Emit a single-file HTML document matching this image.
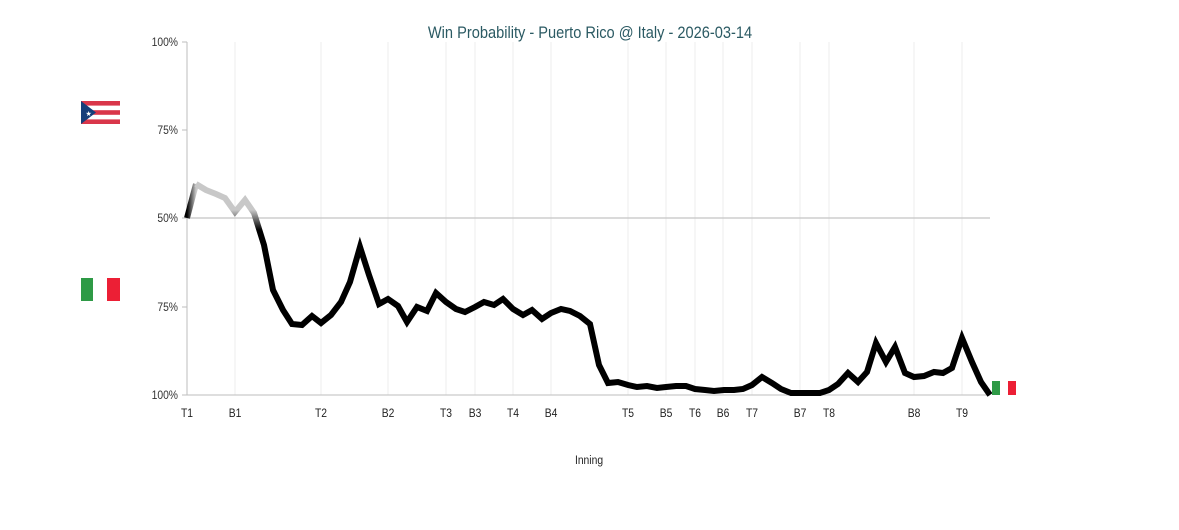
<!DOCTYPE html>
<html><head><meta charset="utf-8"><style>
html,body{margin:0;padding:0;background:#fff;width:1179px;height:530px;overflow:hidden}
text{font-family:"Liberation Sans",sans-serif}
</style></head><body>
<svg width="1179" height="530" xmlns="http://www.w3.org/2000/svg">
<defs>
<linearGradient id="g" gradientUnits="userSpaceOnUse" x1="0" y1="200" x2="0" y2="250">
<stop offset="0" stop-color="#c8c8c8"/><stop offset="0.2" stop-color="#c8c8c8"/><stop offset="0.6" stop-color="#000"/><stop offset="1" stop-color="#000"/>
</linearGradient>
<linearGradient id="g2" gradientUnits="userSpaceOnUse" x1="187" y1="0" x2="196" y2="0"><stop offset="0" stop-color="#000"/><stop offset="1" stop-color="#c8c8c8"/></linearGradient>
</defs>
<text x="590" y="38" text-anchor="middle" font-size="17" fill="#2b5a63" transform="translate(590 0) scale(0.86 1) translate(-590 0)">Win Probability - Puerto Rico @ Italy - 2026-03-14</text>
<g stroke="#eeeeee" stroke-width="1">
<line x1="235" y1="42" x2="235" y2="395"/><line x1="321" y1="42" x2="321" y2="395"/><line x1="388" y1="42" x2="388" y2="395"/><line x1="446" y1="42" x2="446" y2="395"/><line x1="475" y1="42" x2="475" y2="395"/><line x1="513" y1="42" x2="513" y2="395"/><line x1="551" y1="42" x2="551" y2="395"/><line x1="628" y1="42" x2="628" y2="395"/><line x1="666" y1="42" x2="666" y2="395"/><line x1="695" y1="42" x2="695" y2="395"/><line x1="723" y1="42" x2="723" y2="395"/><line x1="752" y1="42" x2="752" y2="395"/><line x1="800" y1="42" x2="800" y2="395"/><line x1="829" y1="42" x2="829" y2="395"/><line x1="914" y1="42" x2="914" y2="395"/><line x1="962" y1="42" x2="962" y2="395"/>
</g>
<line x1="187" y1="218" x2="990" y2="218" stroke="#c4c4c4" stroke-width="1.2"/>
<g stroke="#bdbdbd" stroke-width="1">
<line x1="187" y1="42" x2="187" y2="395"/><line x1="187" y1="395" x2="990" y2="395"/>
<line x1="182" y1="42" x2="187" y2="42"/><line x1="182" y1="130" x2="187" y2="130"/><line x1="182" y1="218" x2="187" y2="218"/><line x1="182" y1="307" x2="187" y2="307"/><line x1="182" y1="395" x2="187" y2="395"/>
</g>
<g font-size="12" fill="#333" text-anchor="end" transform="translate(178 0) scale(0.86 1) translate(-178 0)">
<text x="178" y="46">100%</text><text x="178" y="134">75%</text><text x="178" y="222">50%</text><text x="178" y="311">75%</text><text x="178" y="399">100%</text>
</g>
<g font-size="12" fill="#222" text-anchor="middle">
<text transform="translate(187 417) scale(0.86 1)">T1</text><text transform="translate(235 417) scale(0.86 1)">B1</text><text transform="translate(321 417) scale(0.86 1)">T2</text><text transform="translate(388 417) scale(0.86 1)">B2</text><text transform="translate(446 417) scale(0.86 1)">T3</text><text transform="translate(475 417) scale(0.86 1)">B3</text><text transform="translate(513 417) scale(0.86 1)">T4</text><text transform="translate(551 417) scale(0.86 1)">B4</text><text transform="translate(628 417) scale(0.86 1)">T5</text><text transform="translate(666 417) scale(0.86 1)">B5</text><text transform="translate(695 417) scale(0.86 1)">T6</text><text transform="translate(723 417) scale(0.86 1)">B6</text><text transform="translate(752 417) scale(0.86 1)">T7</text><text transform="translate(800 417) scale(0.86 1)">B7</text><text transform="translate(829 417) scale(0.86 1)">T8</text><text transform="translate(914 417) scale(0.86 1)">B8</text><text transform="translate(962 417) scale(0.86 1)">T9</text>
<text transform="translate(589 464) scale(0.86 1)">Inning</text>
</g>
<line x1="187" y1="218" x2="196" y2="184" stroke="url(#g2)" stroke-width="6"/>
<polyline fill="none" stroke="url(#g)" stroke-width="6" stroke-linejoin="miter" points="196,184 206,190 216,194 225,198 235,212 245,200 254,213 264,245 273,290 283,310 292,324 302,325 312,316 321,323 331,315 341,302 350,282 360,247 369,275 379,304 388,299 398,306 407,322 417,307 427,311 436,293 446,302 456,309 465,312 475,307 484,302 494,305 503,299 513,309 523,315 532,310 542,319 551,313 561,309 570,311 580,316 590,324 599,365 608,383 618,382 628,385 637,387 647,386 657,388 666,387 676,386 686,386 695,389 705,390 714,391 724,390 734,390 743,389 752,385 762,377 772,383 781,389 791,393 800,393 810,393 820,393 829,390 838,384 848,373 858,382 867,372 876,343 886,362 895,347 905,373 914,377 924,376 934,372 943,373 952,368 962,338 972,362 981,382 990,395"/>
<g>
<rect x="81" y="101" width="39" height="23" fill="#fff"/>
<rect x="81" y="101" width="39" height="4.6" fill="#d9364a"/>
<rect x="81" y="110.2" width="39" height="4.6" fill="#d9364a"/>
<rect x="81" y="119.4" width="39" height="4.6" fill="#d9364a"/>
<polygon points="81,101 96,112.5 81,124" fill="#163e7a"/>
<text x="85.5" y="116" font-size="7" fill="#fff">★</text>
</g>
<rect x="81" y="278" width="12" height="23" fill="#2e9a46"/>
<rect x="107" y="278" width="13" height="23" fill="#ec1f35"/>
<rect x="992" y="381" width="8" height="14" fill="#2e9a46"/>
<rect x="1008" y="381" width="8" height="14" fill="#ec1f35"/>
</svg>
</body></html>
